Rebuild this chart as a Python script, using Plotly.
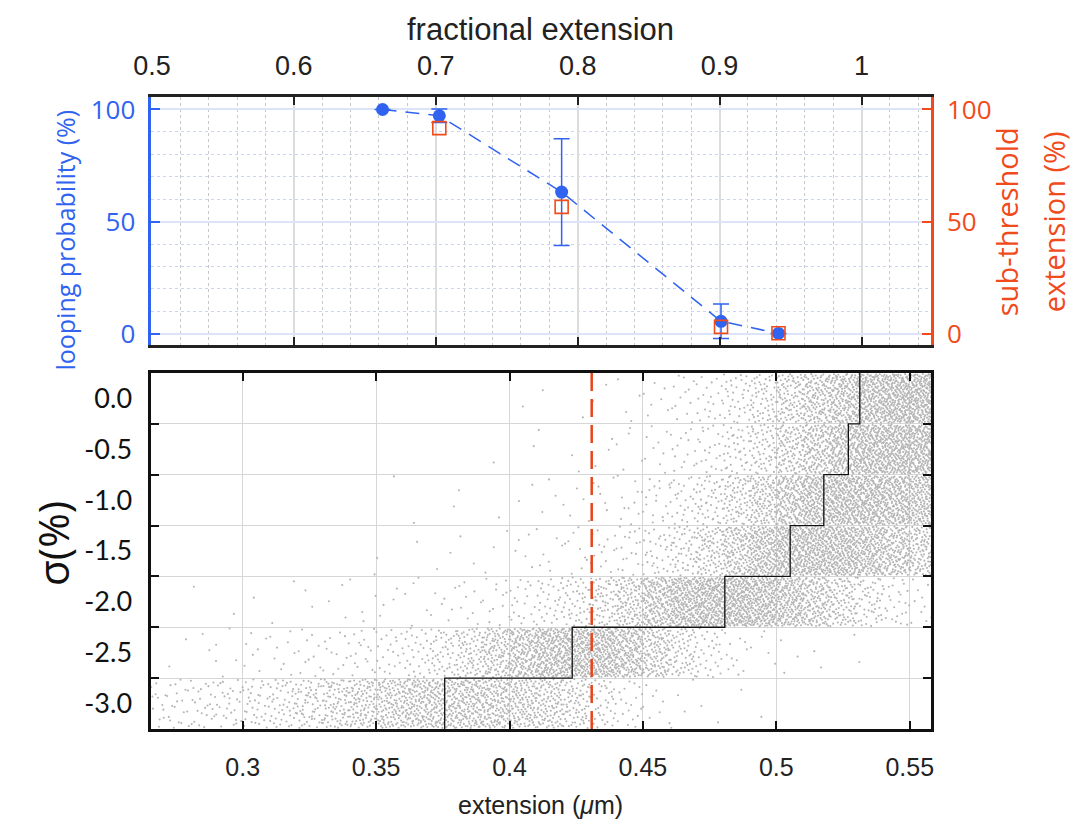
import plotly.graph_objects as go

# ---------------- data: top panel ----------------
frac_ext = [0.6625, 0.7025, 0.7887, 0.9010, 0.9415]
loop_prob = [100.0, 97.2, 63.2, 5.6, 0.2]
loop_err = [0.0, 3.0, 23.8, 7.7, 0.0]
sub_frac_ext = [0.7025, 0.7887, 0.9010, 0.9415]
sub_threshold = [91.7, 56.6, 3.1, 0.3]
frac_ticks = [0.5, 0.6, 0.7, 0.8, 0.9, 1.0]
frac_ticktext = ["0.5", "0.6", "0.7", "0.8", "0.9", "1"]
pct_ticks = [0, 50, 100]

# ---------------- data: bottom panel ----------------
sigma_levels = [0.0, -0.5, -1.0, -1.5, -2.0, -2.5, -3.0]
sigma_ticktext = ["0.0", "-0.5", "-1.0", "-1.5", "-2.0", "-2.5", "-3.0"]
median_ext = [0.5313, 0.5270, 0.5178, 0.5052, 0.4807, 0.4235, 0.3757]
threshold_ext = 0.4308
ext_ticks = [0.30, 0.35, 0.40, 0.45, 0.50, 0.55]
ext_ticktext = ["0.3", "0.35", "0.4", "0.45", "0.5", "0.55"]
# histogram bins (left edges, width 0.01) of the point cloud, counts estimated per sigma band
bin_left = [0.26, 0.27, 0.28, 0.29, 0.30, 0.31, 0.32, 0.33, 0.34, 0.35,
            0.36, 0.37, 0.38, 0.39, 0.40, 0.41, 0.42, 0.43, 0.44, 0.45,
            0.46, 0.47, 0.48, 0.49, 0.50, 0.51, 0.52, 0.53, 0.54, 0.55]
counts_s0_0 = [0, 0, 0, 0, 0, 0, 0, 0, 0, 0, 0, 0, 0, 0, 1, 1, 1, 2, 4, 7,
               13, 20, 34, 58, 95, 135, 180, 230, 260, 260]
counts_s0_5 = [0, 0, 0, 0, 0, 0, 0, 0, 0, 0, 0, 0, 0, 1, 1, 1, 2, 3, 5, 9,
               14, 22, 38, 62, 105, 150, 200, 240, 250, 240]
counts_s1_0 = [0, 0, 0, 0, 0, 0, 0, 0, 0, 1, 1, 1, 1, 1, 2, 3, 5, 7, 11, 17,
               28, 46, 75, 120, 170, 215, 240, 240, 220, 190]
counts_s1_5 = [0, 0, 0, 0, 0, 0, 0, 0, 1, 1, 1, 2, 2, 3, 5, 7, 9, 13, 19, 30,
               50, 85, 135, 190, 230, 240, 230, 200, 160, 120]
counts_s2_0 = [0, 0, 1, 1, 1, 2, 2, 3, 4, 4, 5, 7, 9, 13, 19, 30, 45, 65, 110, 170,
               220, 250, 260, 230, 190, 140, 90, 50, 25, 12]
counts_s2_5 = [1, 2, 3, 4, 7, 9, 11, 13, 17, 21, 30, 47, 75, 115, 165, 210, 230, 220, 180, 120,
               65, 30, 12, 5, 3, 2, 1, 1, 0, 0]
counts_s3_0 = [20, 22, 25, 28, 35, 45, 60, 80, 100, 120, 140, 150, 150, 140, 125, 105, 75, 40, 18, 8,
               4, 2, 1, 1, 0, 0, 0, 0, 0, 0]
band_counts = [counts_s0_0, counts_s0_5, counts_s1_0, counts_s1_5,
               counts_s2_0, counts_s2_5, counts_s3_0]
BIN_W = 0.01

BLUE = "#2f63f0"
ORANGE = "#f04b1c"
DARK = "#222222"


def halton(i, b):
    f, r = 1.0, 0.0
    while i > 0:
        f /= b
        r += f * (i % b)
        i //= b
    return r


# spread each bin's points evenly (low-discrepancy placement) inside the bin
cloud_x, cloud_y = [], []
k = 1
for lvl, counts in zip(sigma_levels, band_counts):
    for left, n in zip(bin_left, counts):
        for _ in range(n):
            cloud_x.append(left + halton(k, 2) * BIN_W)
            cloud_y.append(lvl + (halton(k, 3) - 0.5) * 0.48)
            k += 1

# staircase through per-band medians
half = 0.25
stair_x, stair_y = [], []
for lvl, m in sorted(zip(sigma_levels, median_ext)):
    stair_x.append(m)
    stair_y.append(lvl - half)
stair_x.append(stair_x[-1])
stair_y.append(sigma_levels[0] + half)

fig = go.Figure()

# ---- top panel ----
fig.add_trace(go.Scatter(
    x=frac_ext, y=loop_prob, mode="lines+markers", xaxis="x", yaxis="y",
    line=dict(color=BLUE, width=1.5, dash="14px,9px"),
    marker=dict(symbol="circle", size=13, color=BLUE),
    error_y=dict(type="data", array=loop_err, visible=True, color=BLUE, thickness=1.5, width=8),
    cliponaxis=False, showlegend=False))
fig.add_trace(go.Scatter(
    x=sub_frac_ext, y=sub_threshold, mode="markers", xaxis="x", yaxis="y3",
    marker=dict(symbol="square-open", size=13, color=ORANGE, line=dict(width=1.6, color=ORANGE)),
    cliponaxis=False, showlegend=False))

# ---- bottom panel ----
fig.add_trace(go.Scatter(
    x=cloud_x, y=cloud_y, mode="markers", xaxis="x2", yaxis="y2",
    marker=dict(size=2.1, color="#b5b5b5", line=dict(width=0)),
    hoverinfo="skip", showlegend=False))
fig.add_trace(go.Scatter(
    x=stair_x, y=stair_y, mode="lines", xaxis="x2", yaxis="y2",
    line=dict(color="#111111", width=1.3, shape="vh"), showlegend=False))
fig.add_trace(go.Scatter(
    x=[threshold_ext, threshold_ext], y=[-3.25, 0.25], mode="lines", xaxis="x2", yaxis="y2",
    line=dict(color="#e8441a", width=2.5, dash="18px,8px"), showlegend=False))

# page body has an 8px margin: figure sized so that screen pixel = figure pixel + 8
OFF = 8
W, H = 1080, 819


def px(xs):
    return (xs - OFF) / W


def py(ys):
    return 1 - (ys - OFF) / H


xdom = [px(135.7), px(931)]
top_dom = [py(343.3), py(91.7)]
bot_dom = [py(733.5), py(371.7)]

tick_font_top = dict(family="Liberation Sans, Arial, sans-serif", size=27, color=DARK)
tick_font_bot = dict(family="Liberation Sans, Arial, sans-serif", size=25, color=DARK)

fig.update_layout(
    width=W, height=H, margin=dict(l=0, r=0, t=0, b=0),
    paper_bgcolor="white", plot_bgcolor="white", showlegend=False,
    xaxis=dict(
        domain=xdom, anchor="y", side="top", range=[0.4995, 1.049],
        tickmode="array", tickvals=frac_ticks, ticktext=frac_ticktext,
        ticks="inside", ticklen=8, tickwidth=2, tickcolor=DARK,
        showline=True, linecolor=DARK, linewidth=2.5, mirror="ticks",
        showgrid=True, gridcolor="#dcdcdc", gridwidth=1.5, zeroline=False,
        minor=dict(tickmode="array", tickvals=[0.52, 0.54, 0.56, 0.58, 0.62, 0.64, 0.66, 0.68,
                                               0.72, 0.74, 0.76, 0.78, 0.82, 0.84, 0.86, 0.88,
                                               0.92, 0.94, 0.96, 0.98, 1.02, 1.04],
                   showgrid=True, gridcolor="#c8c8c8", griddash="dot", gridwidth=1),
        tickfont=tick_font_top, ticklabelstandoff=9),
    yaxis=dict(
        domain=top_dom, anchor="x", range=[-4.95, 105.4],
        tickmode="array", tickvals=pct_ticks,
        ticks="inside", ticklen=9, tickwidth=2, tickcolor=BLUE,
        showline=True, linecolor=BLUE, linewidth=2.5,
        showgrid=True, gridcolor="#dde4fa", gridwidth=1.5, zeroline=False,
        minor=dict(tickmode="array", tickvals=[10, 20, 30, 40, 60, 70, 80, 90],
                   showgrid=True, gridcolor="#c9d5f6", griddash="dot", gridwidth=1),
        tickfont=dict(family="Open Sans, sans-serif", size=26, color=BLUE),
        ticklabelstandoff=8),
    yaxis3=dict(
        overlaying="y", side="right", anchor="x", range=[-4.95, 105.4],
        tickmode="array", tickvals=pct_ticks,
        ticks="inside", ticklen=9, tickwidth=2, tickcolor=ORANGE,
        showline=True, linecolor=ORANGE, linewidth=2.5,
        showgrid=False, zeroline=False,
        tickfont=dict(family="Open Sans, sans-serif", size=26, color=ORANGE),
        ticklabelstandoff=8),
    xaxis2=dict(
        domain=xdom, anchor="y2", range=[0.2657, 0.558],
        tickmode="array", tickvals=ext_ticks, ticktext=ext_ticktext,
        ticks="inside", ticklen=8, tickwidth=2, tickcolor="#111111",
        showline=True, linecolor="#111111", linewidth=2.5, mirror="ticks",
        showgrid=True, gridcolor="#d6d6d6", gridwidth=1, zeroline=False,
        tickfont=tick_font_bot, ticklabelstandoff=14),
    yaxis2=dict(
        domain=bot_dom, anchor="x2", range=[-3.25, 0.25],
        tickmode="array", tickvals=sigma_levels, ticktext=sigma_ticktext,
        ticks="", showgrid=False, zeroline=False,
        showline=True, linecolor="#111111", linewidth=2.5, mirror="ticks",
        minor=dict(tickmode="array", tickvals=[-2.75, -2.25, -1.75, -1.25, -0.75, -0.25],
                   ticks="inside", ticklen=8, tickwidth=2, tickcolor="#111111",
                   showgrid=True, gridcolor="#d6d6d6", gridwidth=1),
        tickfont=dict(family="Lato, sans-serif", size=27, color="#111111"),
        ticklabelstandoff=11),
)

ann = [
    dict(text="fractional extension", x=px(533), y=py(23),
         font=dict(family="Liberation Sans, Arial, sans-serif", size=31, color=DARK)),
    dict(text="extension (<i>μ</i>m)", x=px(533), y=py(811),
         font=dict(family="Liberation Sans, Arial, sans-serif", size=25, color=DARK)),
    dict(text="looping probability (%)", x=px(48), y=py(237), textangle=-90,
         font=dict(family="Open Sans, sans-serif", size=25, color=BLUE)),
    dict(text="sub-threshold", x=px(1008), y=py(218), textangle=-90,
         font=dict(family="Open Sans, sans-serif", size=29, color=ORANGE)),
    dict(text="extension (%)", x=px(1056), y=py(218), textangle=-90,
         font=dict(family="Open Sans, sans-serif", size=29, color=ORANGE)),
    dict(text="σ(%)", x=px(35), y=py(545), textangle=-90,
         font=dict(family="Open Sans, sans-serif", size=42, color="#111111")),
]
for a in ann:
    a.update(xref="paper", yref="paper", showarrow=False, xanchor="center", yanchor="middle")
fig.update_layout(annotations=ann)

fig.write_html("out.html")
